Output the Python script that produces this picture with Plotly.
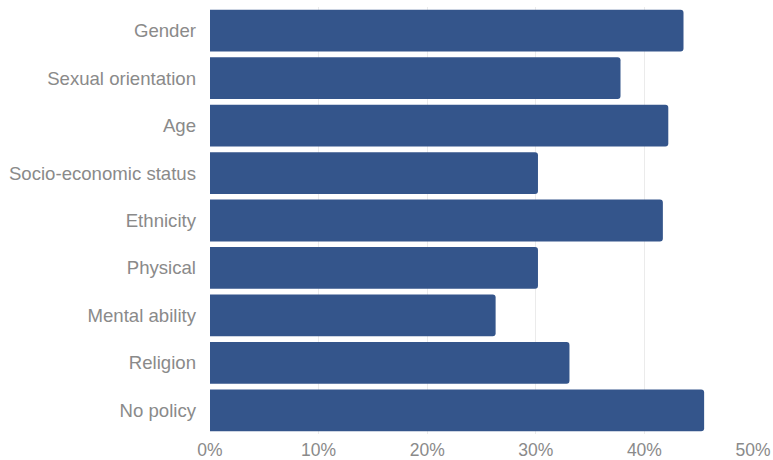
import plotly.graph_objects as go

# Share of organisations with a policy covering each dimension (percent)
categories = [
    "Gender",
    "Sexual orientation",
    "Age",
    "Socio-economic status",
    "Ethnicity",
    "Physical",
    "Mental ability",
    "Religion",
    "No policy",
]
values = [43.6, 37.8, 42.2, 30.2, 41.7, 30.2, 26.3, 33.1, 45.5]
x_ticks = [0, 10, 20, 30, 40, 50]
x_tick_labels = ["0%", "10%", "20%", "30%", "40%", "50%"]

fig = go.Figure(
    go.Bar(
        x=values,
        y=categories,
        orientation="h",
        marker=dict(color="#34558b", line=dict(width=0)),
        hoverinfo="x+y",
    )
)

fig.update_layout(
    width=773,
    height=460,
    margin=dict(l=210, r=20, t=7, b=26),
    paper_bgcolor="white",
    plot_bgcolor="white",
    bargap=0.12,
    barcornerradius=3,
    showlegend=False,
    font=dict(family="Liberation Sans, Arial, sans-serif", size=18.6, color="#8a8a8a"),
)

fig.update_xaxes(
    range=[0, 50],
    tickvals=x_ticks,
    ticktext=x_tick_labels,
    tickfont=dict(size=17.5),
    showgrid=True,
    gridcolor="#ebebeb",
    gridwidth=1,
    zeroline=False,
    showline=False,
    ticks="",
    ticklabelstandoff=3,
    automargin=False,
    fixedrange=True,
)

fig.update_yaxes(
    autorange="reversed",
    showgrid=False,
    zeroline=False,
    showline=False,
    ticks="",
    ticklabelstandoff=13,
    automargin=False,
    fixedrange=True,
)

fig.write_html("out.html")
